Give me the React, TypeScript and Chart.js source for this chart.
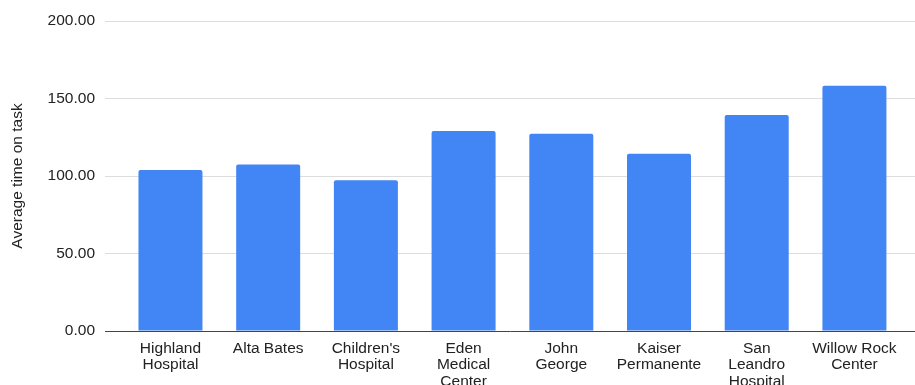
import React, { useEffect, useRef } from "react";
import { Chart, registerables } from "chart.js";

Chart.register(...registerables);

const categories: string[][] = [
  ["Highland", "Hospital"],
  ["Alta Bates"],
  ["Children's", "Hospital"],
  ["Eden", "Medical", "Center"],
  ["John", "George"],
  ["Kaiser", "Permanente"],
  ["San", "Leandro", "Hospital"],
  ["Willow Rock", "Center"],
];
const avgTime: number[] = [103.9, 107.5, 97.2, 129.0, 127.3, 114.4, 139.4, 158.3];
const yTicks: number[] = [0, 50, 100, 150, 200];
const yTitle = "Average time on task";

const FONT = "Arial, 'Liberation Sans', sans-serif";

export default function App() {
  const ref = useRef<HTMLCanvasElement | null>(null);
  useEffect(() => {
    if (!ref.current) return;
    const chart = new Chart(ref.current, {
      type: "bar",
      data: {
        datasets: [
          {
            data: avgTime.map((v, i) => ({ x: i, y: v })),
            backgroundColor: "#4285f4",
            borderRadius: { topLeft: 2, topRight: 2, bottomLeft: 0, bottomRight: 0 },
            borderSkipped: "bottom",
            barPercentage: 0.655,
            categoryPercentage: 1,
          },
        ],
      },
      options: {
        responsive: false,
        animation: false,
        layout: { padding: { top: 21, right: 0, left: 0, bottom: 0 } },
        plugins: { legend: { display: false }, tooltip: { enabled: false } },
        scales: {
          x: {
            type: "linear",
            min: -0.67,
            max: 7.62,
            offset: false,
            grid: { display: false, drawTicks: false, offset: false },
            border: { display: true, color: "#444444", width: 1 },
            afterBuildTicks: (scale: any) => {
              scale.ticks = categories.map((_, i) => ({ value: i }));
            },
            afterFit: (scale: any) => {
              scale.height = 54;
            },
            ticks: {
              autoSkip: false,
              maxRotation: 0,
              minRotation: 0,
              padding: 9,
              color: "#222222",
              font: { family: FONT, size: 15.5, lineHeight: 1.07 },
              callback: (value: any) => categories[Math.round(Number(value))] ?? "",
            },
          },
          y: {
            min: 0,
            max: 200,
            afterBuildTicks: (scale: any) => {
              scale.ticks = yTicks.map((v) => ({ value: v }));
            },
            afterFit: (scale: any) => {
              scale.width = 105;
            },
            grid: { color: "#dddddd", drawTicks: false, lineWidth: 1 },
            border: { display: false },
            ticks: {
              padding: 10,
              color: "#222222",
              font: { family: FONT, size: 15.5 },
              callback: (value: any) => Number(value).toFixed(2),
            },
            title: {
              display: true,
              text: yTitle,
              color: "#222222",
              font: { family: FONT, size: 15.5 },
              padding: { top: 8, bottom: 0 },
            },
          },
        },
      },
    });
    return () => chart.destroy();
  }, []);
  return (
    <div style={{ position: "fixed", left: 0, top: 0, width: 915, height: 385, background: "#fff" }}>
      <canvas ref={ref} width={915} height={385} />
    </div>
  );
}
